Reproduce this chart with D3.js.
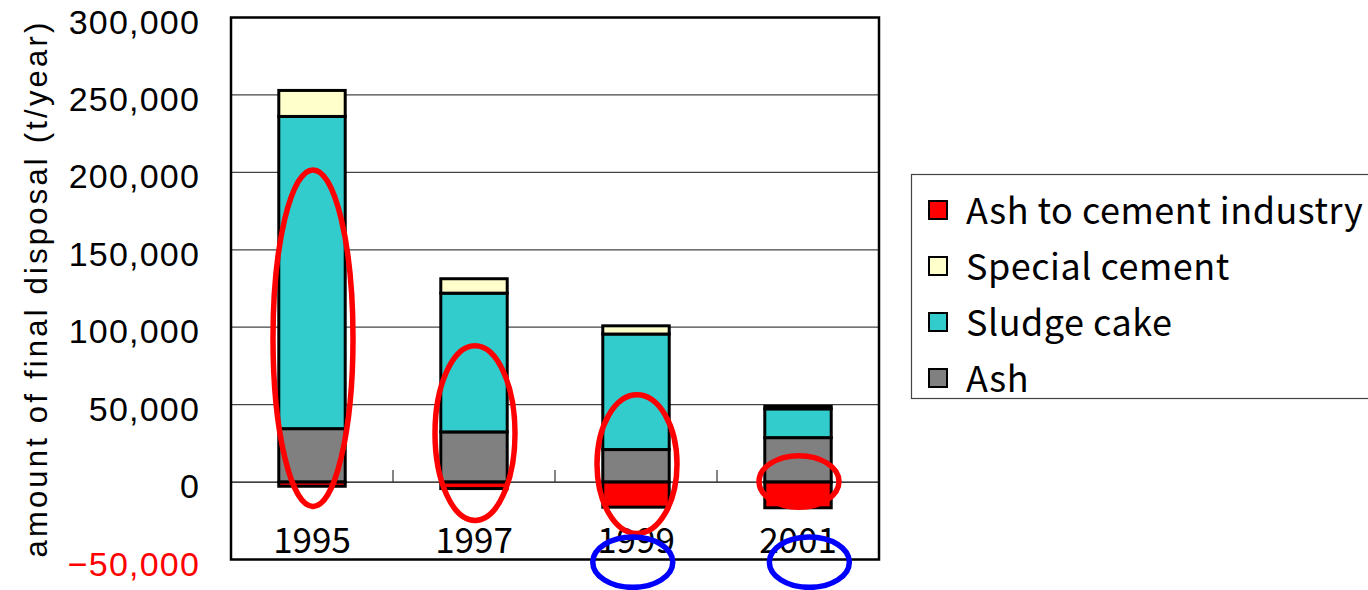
<!DOCTYPE html>
<html>
<head>
<meta charset="utf-8">
<script src="https://cdn.jsdelivr.net/npm/d3@7"></script>
<style>
  html, body { margin: 0; padding: 0; background: #fff; }
  svg { display: block; }
</style>
</head>
<body>
<svg id="chart" width="1368" height="590"></svg>
<script>
// ---- data ----
const years = ["1995", "1997", "1999", "2001"];
const ash = [34500, 32400, 21000, 28700];
const sludgeCake = [201600, 89600, 74600, 18600];
const specialCement = [16800, 9300, 5300, 1600];
const ashToCement = [-2700, -4200, -16200, -16600];
const yTicks = [-50000, 0, 50000, 100000, 150000, 200000, 250000, 300000];
const legendLabels = ["Ash to cement industry", "Special cement", "Sludge cake", "Ash"];
const seriesColors = ["#FF0000", "#FFFFCC", "#33CCCC", "#808080"];
// annotation ellipses (in data units: year, value range)
const redMarks = [
  { year: "1995", top: 201600, bottom: -15800 },
  { year: "1997", top: 88000, bottom: -24800 },
  { year: "1999", top: 56400, bottom: -33200 },
  { year: "2001", top: 17000, bottom: -16300 }
];
const blueMarks = [
  { year: "1999", top: -35500, bottom: -68000, shift: -0.02 },
  { year: "2001", top: -35500, bottom: -68000, shift: 0.07 }
];

// ---- layout ----
const svg = d3.select("#chart");
const L = 231, R = 879, T = 17.5, B = 559.5;

const x = d3.scaleBand().domain(years).range([L, R]).paddingInner(0).paddingOuter(0);
const y = d3.scaleLinear().domain([-50000, 300000]).range([B, T]);
const barW = x.bandwidth() * 0.41;

// gridlines
svg.append("g").selectAll("line")
  .data(yTicks.filter(v => v > -50000 && v < 300000))
  .join("line")
  .attr("x1", L).attr("x2", R)
  .attr("y1", d => y(d)).attr("y2", d => y(d))
  .attr("stroke", d => d === 0 ? "#000" : "#444")
  .attr("stroke-width", 1.2);

// category ticks on zero line (band boundaries)
svg.append("g").selectAll("line")
  .data(years.slice(1))
  .join("line")
  .attr("x1", d => x(d)).attr("x2", d => x(d))
  .attr("y1", y(0)).attr("y2", y(0) - 12)
  .attr("stroke", "#333").attr("stroke-width", 1.2);

// stacked segments
const segs = [];
years.forEach((yr, i) => {
  let base = 0;
  [[ash, 3], [sludgeCake, 2], [specialCement, 1]].forEach(([arr, ci]) => {
    segs.push({ yr, y0: base, y1: base + arr[i], color: seriesColors[ci] });
    base += arr[i];
  });
  segs.push({ yr, y0: ashToCement[i], y1: 0, color: seriesColors[0] });
});

svg.append("g").selectAll("rect")
  .data(segs)
  .join("rect")
  .attr("x", d => x(d.yr) + (x.bandwidth() - barW) / 2)
  .attr("width", barW)
  .attr("y", d => y(Math.max(d.y0, d.y1)))
  .attr("height", d => Math.abs(y(d.y0) - y(d.y1)))
  .attr("fill", d => d.color)
  .attr("stroke", "#000")
  .attr("stroke-width", 3);

// plot frame
svg.append("rect")
  .attr("x", L).attr("y", T).attr("width", R - L).attr("height", B - T)
  .attr("fill", "none").attr("stroke", "#000").attr("stroke-width", 2.5);

// y tick labels
svg.append("g").selectAll("text")
  .data(yTicks)
  .join("text")
  .attr("x", 200)
  .attr("y", d => y(d) + 4)
  .attr("text-anchor", "end")
  .attr("dominant-baseline", "central")
  .attr("font-family", "'Liberation Sans', Arial, sans-serif")
  .attr("font-size", 34)
  .attr("letter-spacing", 1.2)
  .attr("fill", d => d < 0 ? "#FF0000" : "#000")
  .text(d => d < 0 ? "\u221250,000" : d3.format(",")(d));

// y axis title
svg.append("text")
  .attr("transform", `translate(36,${(T + B) / 2}) rotate(-90)`)
  .attr("text-anchor", "middle")
  .attr("dominant-baseline", "central")
  .attr("font-family", "'Liberation Sans', Arial, sans-serif")
  .attr("font-size", 31)
  .attr("letter-spacing", 3.2)
  .attr("fill", "#000")
  .text("amount of final disposal (t/year)");

// category labels
svg.append("g").selectAll("text")
  .data(years)
  .join("text")
  .attr("x", d => x(d) + x.bandwidth() / 2)
  .attr("y", 553)
  .attr("text-anchor", "middle")
  .attr("font-family", "'Noto Sans CJK JP', sans-serif")
  .attr("font-size", 35)
  .attr("fill", "#000")
  .text(d => d);

// annotations
svg.append("g").selectAll("ellipse")
  .data(redMarks)
  .join("ellipse")
  .attr("cx", d => x(d.year) + x.bandwidth() / 2 + 1)
  .attr("cy", d => (y(d.top) + y(d.bottom)) / 2)
  .attr("rx", 40)
  .attr("ry", d => (y(d.bottom) - y(d.top)) / 2)
  .attr("fill", "none").attr("stroke", "#FF0000").attr("stroke-width", 5.5);

svg.append("g").selectAll("ellipse")
  .data(blueMarks)
  .join("ellipse")
  .attr("cx", d => x(d.year) + x.bandwidth() * (0.5 + d.shift))
  .attr("cy", d => (y(d.top) + y(d.bottom)) / 2)
  .attr("rx", 40)
  .attr("ry", d => (y(d.bottom) - y(d.top)) / 2)
  .attr("fill", "none").attr("stroke", "#0000FF").attr("stroke-width", 5.5);

// legend
const lg = svg.append("g");
lg.append("rect")
  .attr("x", 911.5).attr("y", 174.5).attr("width", 480).attr("height", 224)
  .attr("fill", "#fff").attr("stroke", "#444").attr("stroke-width", 1.2);
const rows = lg.selectAll("g.row")
  .data(legendLabels)
  .join("g")
  .attr("class", "row")
  .attr("transform", (d, i) => `translate(0,${209 + i * 56})`);
rows.append("rect")
  .attr("x", 929).attr("y", -8).attr("width", 18).attr("height", 18)
  .attr("fill", (d, i) => seriesColors[i])
  .attr("stroke", "#000").attr("stroke-width", 2);
rows.append("text")
  .attr("x", 966).attr("y", -1)
  .attr("dominant-baseline", "central")
  .attr("font-family", "'Noto Sans CJK JP', sans-serif")
  .attr("font-size", 36)
  .attr("letter-spacing", 0.5)
  .attr("fill", "#000")
  .text(d => d);
</script>
</body>
</html>
